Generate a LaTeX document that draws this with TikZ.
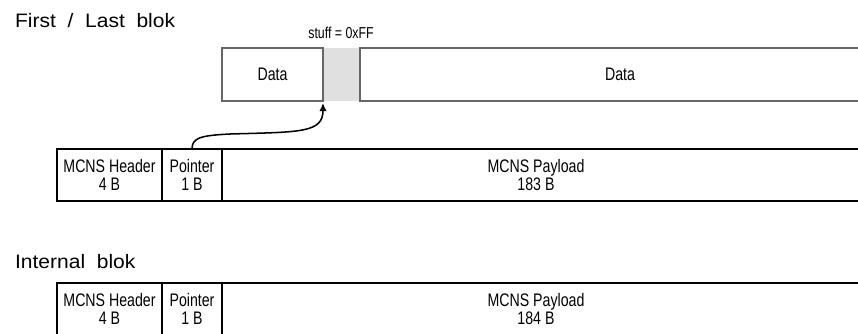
\documentclass[tikz,border=0pt]{standalone}
\usepackage{fontspec}
\setmainfont{Liberation Sans}
\newfontfamily\narrowfont[FakeStretch=0.78]{Liberation Sans}
\newfontfamily\headfont[FakeStretch=1.08,WordSpace=2]{Liberation Sans}
\usetikzlibrary{arrows.meta}

\begin{document}
\begin{tikzpicture}[
        x=0.03cm, y=-0.03cm,
        font=\narrowfont\fontsize{15.5}{15}\selectfont,
        cell/.style={draw, line width=0.9pt, inner sep=0pt, outer sep=0pt,
            anchor=north west, minimum height=1.56cm, align=center},
        datacell/.style={cell, draw=black!60, minimum height=1.59cm},
        heading/.style={anchor=base west, font=\headfont\fontsize{16.6}{20}\selectfont},
        ]
        \useasboundingbox (0,0) rectangle (858,334);
        \clip (0,0) rectangle (858,334);

        % first / last block
        \node[heading] (firsthd) at (11,27) {First / Last blok};
        \node[font=\narrowfont\fontsize{13.5}{15}\selectfont] (stuff) at (341,33) {stuff = 0xFF};
        \node[fill=black!12, minimum width=1.11cm, minimum height=1.59cm,
            inner sep=0pt, outer sep=0pt, anchor=north west] (gap) at (323,48) {};
        \node[datacell, minimum width=3.03cm] (data1) at (222,48) {Data};
        \node[datacell, minimum width=15.6cm] (data2) at (360,48) {Data};

        % internal block
        \node[heading] (internalhd) at (11,268) {Internal blok};

        \foreach \y/\len [count=\i] in {149/183, 283/184}
        {
            \node[cell, minimum width=3.15cm] (hdr\i) at (57,\y) {MCNS Header\\4 B};
            \node[cell, minimum width=1.8cm] (ptr\i) at (hdr\i.north east) {Pointer\\1 B};
            \draw[line width=0.9pt] (ptr\i.north east) -- ++(700,0)
                (ptr\i.south east) -- ++(700,0);
            \node[align=center] (pay\i) at (536,\y+26) {MCNS Payload\\\len{} B};
        }

        \coordinate (tip) at (323,103);
        \draw[line width=1.3pt, -{Latex[length=7pt,width=6.5pt]}] (ptr1.north)
            .. controls +(0,-11) and (200,135.5) .. (230,134)
            .. controls (300,132) and (323,133) .. (tip);

    \end{tikzpicture}
\end{document}
